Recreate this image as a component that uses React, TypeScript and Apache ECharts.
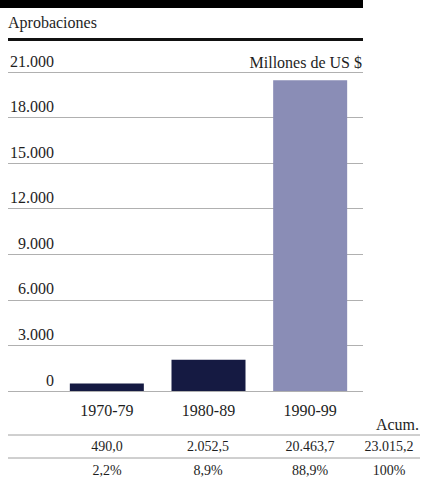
import React, { useEffect, useRef } from "react";
import * as echarts from "echarts";

const categories = ["1970-79", "1980-89", "1990-99"];
const approvals = [490.0, 2052.5, 20463.7];
const totalApprovals = 23015.2;
const shares = [2.2, 8.9, 88.9];
const totalShare = 100;
const barColors = ["#151a42", "#151a42", "#8a8db6"];
const yTicks = { min: 0, max: 21000, interval: 3000 };

const FONT = "Liberation Serif, DejaVu Serif, serif";
const TXT = "#1e1e1e";

function fmtThousands(n: number, decimals: number): string {
  const fixed = n.toFixed(decimals);
  const [intPart, dec] = fixed.split(".");
  const withDots = intPart.replace(/\B(?=(\d{3})+(?!\d))/g, ".");
  return dec !== undefined ? withDots + "," + dec : withDots;
}
function fmtPct(n: number): string {
  return Number.isInteger(n) ? `${n}%` : n.toFixed(1).replace(".", ",") + "%";
}

export default function App() {
  const ref = useRef<HTMLDivElement>(null);
  useEffect(() => {
    document.body.style.margin = "0";
    const chart = echarts.init(ref.current!, undefined, { renderer: "svg" });
    const colX = [107, 208, 310];
    const acumX = 389;
    const row1Y = 446;
    const row2Y = 470;
    const txt = (x: number, y: number, text: string, size: number, align: string) => ({
      type: "text", x, y,
      style: { text, fontFamily: FONT, fontSize: size, fill: TXT, verticalAlign: "middle", align },
    });
    const graphics: any[] = [
      { type: "rect", shape: { x: 0, y: 0, width: 363, height: 8 }, style: { fill: "#000" } },
      txt(8, 22, "Aprobaciones", 16, "left"),
      { type: "rect", shape: { x: 8, y: 38, width: 355, height: 3 }, style: { fill: "#111" } },
      txt(362, 62, "Millones de US $", 16, "right"),
      txt(419, 424, "Acum.", 16, "right"),
      { type: "line", shape: { x1: 8, y1: 435, x2: 420, y2: 435 }, style: { stroke: "#a0a0a0", lineWidth: 1 } },
      { type: "line", shape: { x1: 8, y1: 458, x2: 420, y2: 458 }, style: { stroke: "#a0a0a0", lineWidth: 1 } },
    ];
    approvals.forEach((v, i) => {
      graphics.push(txt(colX[i], row1Y, fmtThousands(v, 1), 14, "center"));
      graphics.push(txt(colX[i], row2Y, fmtPct(shares[i]), 14, "center"));
    });
    graphics.push(txt(acumX, row1Y, fmtThousands(totalApprovals, 1), 14, "center"));
    graphics.push(txt(acumX, row2Y, fmtPct(totalShare), 14, "center"));

    chart.setOption({
      animation: false,
      backgroundColor: "#fff",
      grid: [
        { left: 8, top: 72, width: 355, height: 319 },
        { left: 56, top: 72, width: 305, height: 319 },
      ],
      xAxis: [
        { type: "value", gridIndex: 0, min: 0, max: 1, show: false },
        {
          type: "category", gridIndex: 1, data: categories,
          axisLine: { show: false }, axisTick: { show: false },
          axisLabel: { fontFamily: FONT, fontSize: 16, color: TXT, margin: 11 },
        },
      ],
      yAxis: [
        {
          type: "value", gridIndex: 0, min: yTicks.min, max: yTicks.max, interval: yTicks.interval,
          axisLine: { show: false }, axisTick: { show: false },
          splitLine: { lineStyle: { color: "#b0b0b0", width: 1 } },
          axisLabel: {
            inside: true, margin: 46, align: "right", verticalAlign: "bottom",
            padding: [0, 0, 3, 0],
            fontFamily: FONT, fontSize: 16, color: TXT,
            formatter: (v: number) => fmtThousands(v, 0),
          },
        },
        { type: "value", gridIndex: 1, min: yTicks.min, max: yTicks.max, show: false },
      ],
      series: [
        {
          type: "bar", xAxisIndex: 1, yAxisIndex: 1, barWidth: 74,
          data: approvals.map((v, i) => ({ value: v, itemStyle: { color: barColors[i] } })),
        },
      ],
      graphic: graphics,
    });
    return () => chart.dispose();
  }, []);
  return <div ref={ref} style={{ width: 425, height: 491 }} />;
}
